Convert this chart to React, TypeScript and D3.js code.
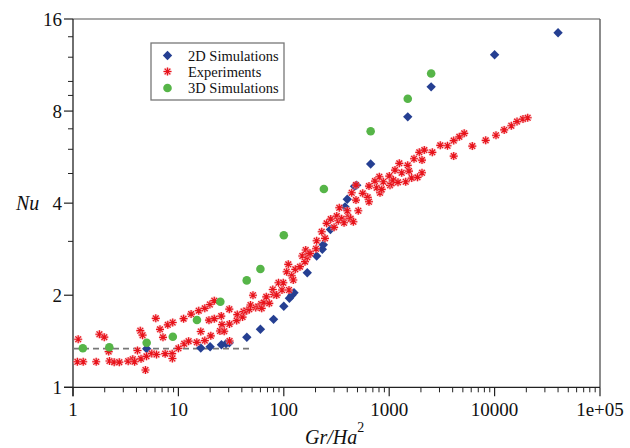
import React from "react";
import * as d3 from "d3";

// ---- data ----
const expX = [1.12, 1.1, 1.25, 1.66, 1.78, 1.98, 2.18, 2.22, 2.46, 2.75, 3.34, 3.69, 3.84, 4.09, 4.35, 4.57, 4.42, 4.87, 4.98, 5.59,
  6.1, 6.2, 6.69, 7.14, 7.49, 7.93, 8.83, 8.73, 8.77, 10.0, 11.2, 11.35, 12.5, 13.2, 14.95, 15.6, 16.3, 17.8, 17.8, 19.5,
  19.9, 21.9, 20.3, 21.9, 25.5, 25.9, 24.8, 27.2, 30.4, 30.5, 30.6, 35.7, 36.2, 40.6, 41.5, 44.5, 47.1, 48.3, 51.0, 54.1,
  57.5, 61.0, 61.7, 64.9, 68.2, 72.8, 78.6, 79.9, 85.6, 89.1, 96.1, 98.9, 106.5, 112, 118.8, 123, 128.6, 110.3, 142.4, 149.8,
  161.4, 158.9, 167.1, 170.8, 177.3, 202, 205, 229, 246, 255, 279, 300, 318, 336, 329, 354, 373, 409, 431, 457,
  400, 441, 484, 509, 484, 561, 625, 643, 643, 733, 806, 761, 818, 849, 879, 1002, 1018, 1056, 1094, 1135,
  1247, 1314, 1434, 1498, 1541, 1635, 1719, 1856, 1930, 2048, 2048, 2153, 2565, 3053, 3573, 4093, 4093, 4626, 5148, 6144,
  8233, 10310, 12330, 14400, 16320, 18600, 20610, 1212];
const expY = [1.436, 1.212, 1.212, 1.212, 1.491, 1.458, 1.309, 1.219, 1.208, 1.208, 1.217, 1.236, 1.212, 1.319, 1.531, 1.48, 1.239, 1.139, 1.263, 1.29,
  1.681, 1.28, 1.547, 1.457, 1.288, 1.601, 1.629, 1.288, 1.242, 1.341, 1.676, 1.388, 1.415, 1.736, 1.403, 1.78, 1.522, 1.422, 1.812, 1.657,
  1.865, 1.919, 1.473, 1.676, 1.71, 1.604, 1.528, 1.525, 1.8, 1.61, 1.417, 1.653, 1.729, 1.697, 1.769, 1.78, 1.799, 1.858, 2.0, 1.823,
  1.834, 1.872, 1.812, 1.893, 1.976, 1.882, 2.088, 2.011, 2.003, 2.197, 2.08, 2.197, 2.387, 2.08, 2.316, 2.243, 2.43, 2.524, 2.479, 2.687,
  2.811, 2.574, 2.66, 2.727, 2.742, 2.838, 3.014, 3.225, 3.069, 3.436, 3.549, 3.334, 3.63, 3.864, 3.503, 3.557, 3.451, 3.611, 3.557, 3.477,
  3.778, 4.325, 4.095, 3.778, 4.584, 4.306, 4.178, 4.042, 4.549, 4.724, 4.879, 4.491, 4.325, 4.437, 4.699, 4.905, 4.573, 4.643, 4.76, 5.131,
  5.397, 5.028, 4.699, 5.317, 5.093, 4.832, 5.587, 4.857, 5.863, 5.028, 5.533, 5.965, 5.863, 6.18, 6.162, 5.702, 6.407, 6.588, 6.764, 6.147,
  6.421, 6.668, 6.944, 7.162, 7.392, 7.533, 7.607, 4.678];

const sim2dX = [5, 16.3, 20, 25.6, 28.3, 30.4, 44.6, 60, 80, 100, 113, 119, 125, 167, 205, 232, 237, 277, 381, 400, 469, 492, 667, 1500, 2500, 10000, 40000];
const sim2dY = [1.337, 1.344, 1.357, 1.377, 1.389, 1.399, 1.458, 1.548, 1.668, 1.84, 1.954, 1.998, 2.038, 2.369, 2.687, 2.825, 2.924, 3.28, 3.89, 4.12, 4.54, 4.58, 5.37, 7.66, 9.6, 12.22, 14.42];

const sim3dX = [1.24, 2.21, 5, 8.85, 15, 25, 44.5, 60, 100, 240, 667, 1500, 2500];
const sim3dY = [1.341, 1.352, 1.399, 1.463, 1.659, 1.904, 2.236, 2.436, 3.14, 4.45, 6.87, 8.78, 10.62];

const refLineX = [1, 50];
const refLineY = [1.337, 1.337];

const xMajor = [1, 10, 100, 1000, 10000, 100000];
const xTickLabels = ["1", "10", "100", "1000", "10000", "1e+05"];
const yMajor = [1, 2, 4, 8, 16];
const yTickLabels = ["1", "2", "4", "8", "16"];
const yMinor = [3, 5, 6, 7, 9, 10, 12, 14];

const legendLabels = ["2D Simulations", "Experiments", "3D Simulations"];

// ---- layout ----
const W = 630, H = 448;
const L = 73, R = 600, T = 19, B = 387.3;
const FONT = '"Liberation Serif", "Times New Roman", "DejaVu Serif", serif';
const BLUE = "#253f92";
const RED = "#e8141c";
const PINK = "#f7a9ae";
const GREEN = "#56b548";
const TXT = { fontFamily: FONT } as React.CSSProperties;

const xScale = d3.scaleLog().domain([1, 1e5]).range([L, R]);
const yScale = d3.scaleLog().base(2).domain([1, 16]).range([B, T]);

const starType = {
  draw(ctx: any, size: number) {
    const r = Math.sqrt(size) / 2;
    for (let i = 0; i < 4; i++) {
      const a = (i * Math.PI) / 4;
      ctx.moveTo(-r * Math.cos(a), -r * Math.sin(a));
      ctx.lineTo(r * Math.cos(a), r * Math.sin(a));
    }
  },
};
const starPath = d3.symbol().type(starType as any).size(64)() as string;
const diamondPath = d3.symbol().type(d3.symbolSquare).size(44)() as string;
const circlePath = d3.symbol().type(d3.symbolCircle).size(58)() as string;

function Star({ cx, cy }: { cx: number; cy: number }) {
  return (
    <g transform={`translate(${cx},${cy})`}>
      <circle r={4.1} fill={PINK} opacity={0.6} />
      <path d={starPath} stroke={RED} strokeWidth={1.2} fill="none" />
      <circle r={1} fill={RED} />
    </g>
  );
}
function Diamond({ cx, cy }: { cx: number; cy: number }) {
  return <path d={diamondPath} transform={`translate(${cx},${cy}) rotate(45)`} fill={BLUE} />;
}
function Dot({ cx, cy }: { cx: number; cy: number }) {
  return <path d={circlePath} transform={`translate(${cx},${cy})`} fill={GREEN} />;
}

export default function App() {
  const xMinor: number[] = [];
  for (let d = 1; d < 1e5; d *= 10) for (let k = 2; k <= 9; k++) xMinor.push(d * k);
  const line = d3.line<number>().x((_, i) => xScale(refLineX[i])).y((_, i) => yScale(refLineY[i]));

  return (
    <svg width={W} height={H} style={{ position: "absolute", left: 0, top: 0, background: "#fff", fontFamily: FONT }}>
      {/* frame */}
      <line x1={L} x2={R} y1={T} y2={T} stroke="#555" strokeWidth={1.2} />
      <line x1={R} x2={R} y1={T} y2={B} stroke="#666" strokeWidth={1.5} />
      {/* x axis */}
      <line x1={L - 9} x2={R} y1={B} y2={B} stroke="#222" strokeWidth={1.3} />
      {xMajor.map((v, i) => (
        <g key={"xm" + i}>
          <line x1={xScale(v)} x2={xScale(v)} y1={B} y2={B + 9} stroke="#222" strokeWidth={1.2} />
          <text x={xScale(v)} y={B + 29} fontSize={19} textAnchor="middle" fill="#111" style={TXT}>{xTickLabels[i]}</text>
        </g>
      ))}
      {xMinor.map((v, i) => (
        <line key={"xn" + i} x1={xScale(v)} x2={xScale(v)} y1={B} y2={B + 5} stroke="#222" strokeWidth={1} />
      ))}
      {/* y axis */}
      <line x1={L} x2={L} y1={T} y2={B + 9} stroke="#222" strokeWidth={1.3} />
      {yMajor.map((v, i) => (
        <g key={"ym" + i}>
          <line x1={L - 9} x2={L} y1={yScale(v)} y2={yScale(v)} stroke="#222" strokeWidth={1.2} />
          <text x={L - 11} y={yScale(v) + 6.5} fontSize={19} textAnchor="end" fill="#111" style={TXT}>{yTickLabels[i]}</text>
        </g>
      ))}
      {yMinor.map((v, i) => (
        <line key={"yn" + i} x1={L - 5} x2={L} y1={yScale(v)} y2={yScale(v)} stroke="#222" strokeWidth={1} />
      ))}
      {/* axis titles */}
      <text x={16} y={yScale(4) + 6.5} fontSize={20} fontStyle="italic" fill="#111" style={TXT}>Nu</text>
      <text x={305} y={444} fontSize={20} fontStyle="italic" fill="#111" style={TXT}>
        Gr/Ha<tspan fontSize={14} dy={-12} fontStyle="normal">2</tspan>
      </text>
      {/* reference dashed line */}
      <path d={line(refLineX) as string} stroke="#777" strokeWidth={1.8} strokeDasharray="6,4" fill="none" />
      {/* data */}
      {sim2dX.map((v, i) => <Diamond key={"d" + i} cx={xScale(v)} cy={yScale(sim2dY[i])} />)}
      {expX.map((v, i) => <Star key={"s" + i} cx={xScale(v)} cy={yScale(expY[i])} />)}
      {sim3dX.map((v, i) => <Dot key={"c" + i} cx={xScale(v)} cy={yScale(sim3dY[i])} />)}
      {/* legend */}
      <rect x={151} y={43} width={133} height={57} fill="#fff" stroke="#777" strokeWidth={1.3} />
      <Diamond cx={167.5} cy={55.5} />
      <Star cx={167.5} cy={71.5} />
      <Dot cx={167.5} cy={88} />
      {legendLabels.map((t, i) => (
        <text key={"l" + i} x={188} y={[55.5, 71.5, 88][i] + 5} fontSize={14.5} fill="#111" style={TXT}>{t}</text>
      ))}
    </svg>
  );
}
